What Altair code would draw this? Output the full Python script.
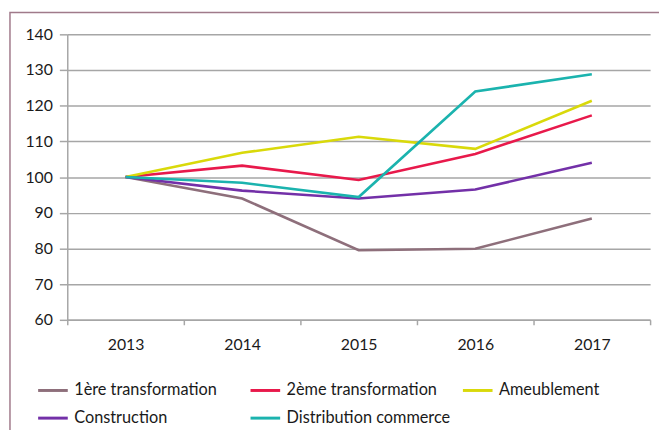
import altair as alt
import pandas as pd

years = ["2013", "2014", "2015", "2016", "2017"]
series_names = ["1ère transformation", "2ème transformation", "Ameublement",
                "Construction", "Distribution commerce"]
premiere = [100, 94.0, 79.5, 79.9, 88.4]
deuxieme = [100, 103.2, 99.2, 106.5, 117.3]
ameublement = [100, 106.8, 111.3, 107.9, 121.4]
construction = [100, 96.2, 94.0, 96.5, 104.0]
distribution = [100, 98.4, 94.4, 124.0, 128.8]
colors = ["#8E6F7B", "#E8194B", "#D9D90A", "#7330A8", "#1BB3AE"]

values = [premiere, deuxieme, ameublement, construction, distribution]
rows = []
for name, vals in zip(series_names, values):
    for yr, v in zip(years, vals):
        rows.append({"Année": yr, "Série": name, "Valeur": v})
df = pd.DataFrame(rows)

FONT = "Lato"

lines = alt.Chart(df).mark_line(strokeWidth=2.6).encode(
    x=alt.X("Année:N", sort=years, title=None,
            scale=alt.Scale(type="band", paddingInner=0, paddingOuter=0),
            axis=alt.Axis(labelAngle=0, tickBand="extent", tickSize=5,
                          labelPadding=12, grid=False, domainColor="#A6A6A6",
                          tickColor="#A6A6A6", domainWidth=1.5, tickWidth=1.5,
                          labelFont=FONT, labelFontSize=16, labelColor="#1a1a1a")),
    y=alt.Y("Valeur:Q", title=None,
            scale=alt.Scale(domain=[60, 140], nice=False),
            axis=alt.Axis(values=[60, 70, 80, 90, 100, 110, 120, 130, 140],
                          tickSize=8, labelPadding=7, gridColor="#A6A6A6",
                          gridWidth=1.5, domainColor="#A6A6A6", tickColor="#A6A6A6",
                          domainWidth=1.5, tickWidth=1.5,
                          labelFont=FONT, labelFontSize=16, labelColor="#1a1a1a")),
    color=alt.Color("Série:N", sort=series_names,
                    scale=alt.Scale(domain=series_names, range=colors),
                    legend=alt.Legend(title=None, orient="none", legendX=-31, legendY=344,
                                      direction="horizontal",
                                      columns=3, gridAlign="all", columnPadding=6,
                                      rowPadding=3, symbolType="stroke",
                                      symbolStrokeWidth=3, symbolSize=900,
                                      symbolOffset=0, labelOffset=5,
                                      labelFontSize=16.5, labelFont=FONT,
                                      labelColor="#1a1a1a", labelLimit=300)),
)

frame = alt.Chart(pd.DataFrame({"k": [0]})).mark_rect(
    fill=None, stroke="#A07A8A", strokeWidth=1.5, clip=False
).encode(
    x=alt.value(-58), x2=alt.value(700), y=alt.value(-22), y2=alt.value(500)
)

chart = alt.layer(frame, lines).properties(
    width=590, height=289,
    background="white",
    autosize=alt.AutoSizeParams(type="none"),
    padding={"left": 60, "top": 24, "right": 9, "bottom": 120},
).configure_view(stroke=None)

chart.save("out.html", embed_options={"renderer": "svg", "actions": False})
